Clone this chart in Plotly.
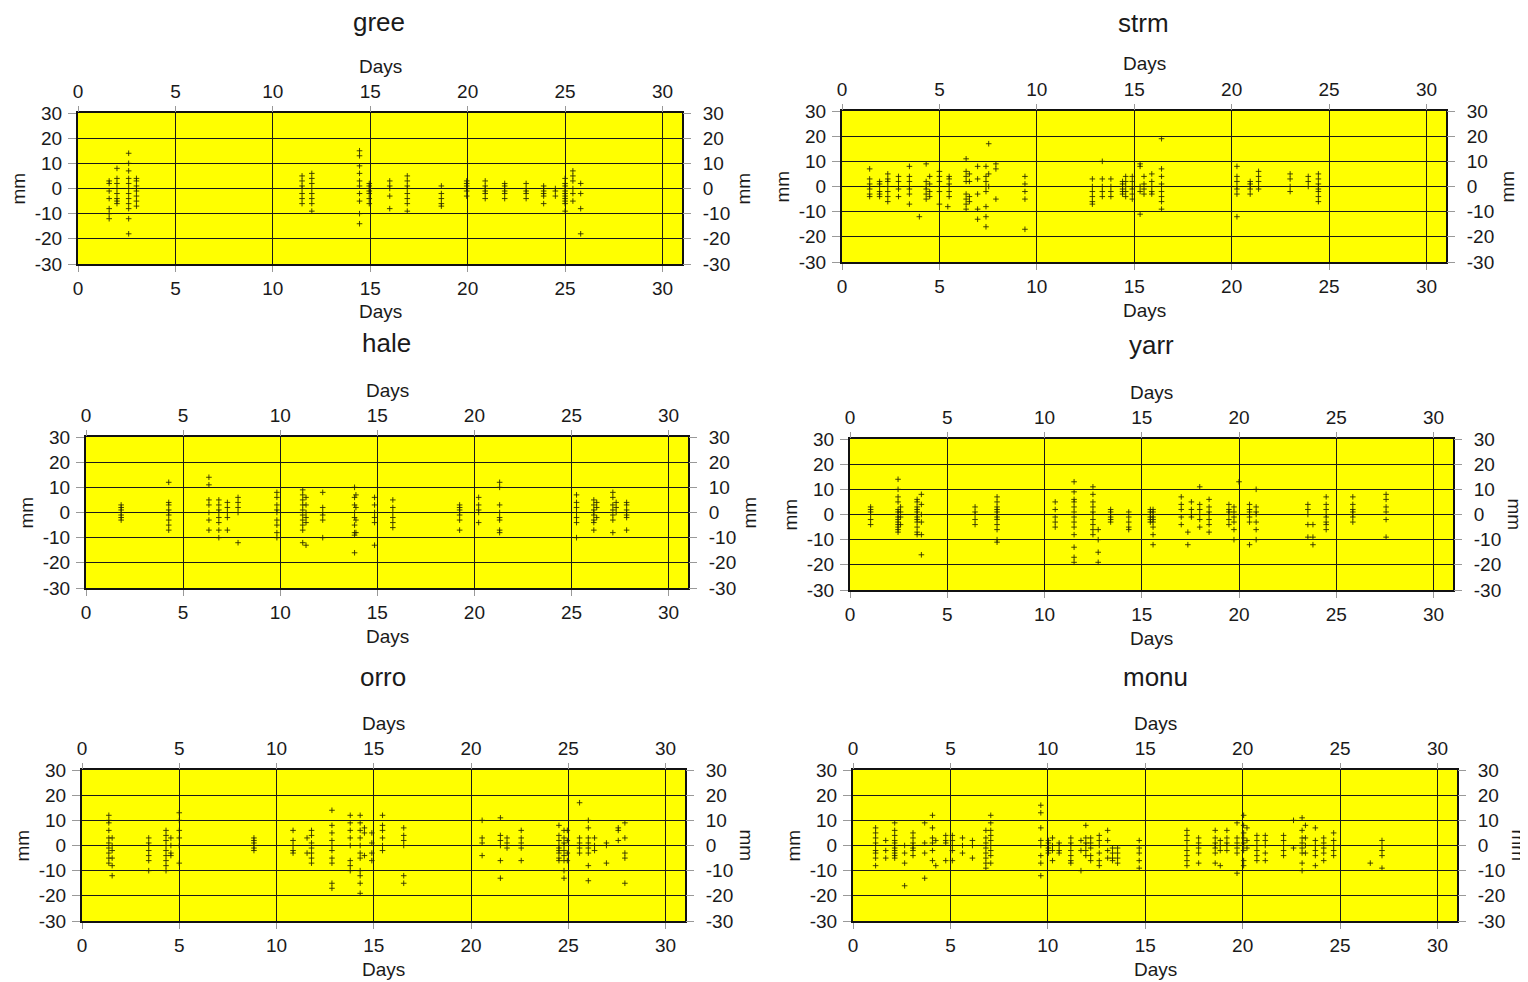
import plotly.graph_objects as go

# ---------------- data (days, and mm values observed on each day) ----------------
stations = ["gree", "strm", "hale", "yarr", "orro", "monu"]

gree_days = [1.6, 2.0, 2.6, 3.0, 11.5, 12.0, 14.45, 14.95, 16.0, 16.9, 18.65, 19.95, 20.9,
             21.9, 23.0, 23.9, 24.5, 25.0, 25.4, 25.8]
gree_mm = [[3, 2, -1, -4, -8, -10, -12], [8, 4, 2, 0, -2, -4, -5, -6],
           [14, 10, 7, 4, 2, 0, -2, -4, -6, -8, -12, -18], [4, 3, 1, 0, -1, -3, -5, -7],
           [5, 3, 1, 0, -2, -4, -6], [6, 4, 2, 0, -2, -4, -6, -9],
           [15, 13, 9, 6, 3, 1, -2, -5, -10, -14], [2, 1, 0, -1, -2, -4, -6],
           [3, 1, 0, -3, -8], [5, 3, 1, 0, -2, -4, -6, -9], [1, -2, -4, -6, -7],
           [3, 2, 1, 0, -1, -3], [3, 1, 0, -1, -2, -4], [2, 1, 0, -1, -2, -4],
           [2, 0, -1, -2, -4], [1, 0, -1, -2, -3, -6], [0, -1, -3],
           [4, 2, 1, 0, -1, -2, -3, -4, -5, -6, -9], [7, 5, 3, 0, -2, -5], [2, -2, -8, -18]]

strm_days = [1.42, 1.93, 2.35, 2.9, 3.46, 3.97, 4.32, 4.5, 5.0, 5.43, 5.5, 6.37, 6.54, 6.96,
             7.39, 7.53, 7.9, 9.39, 12.85, 13.36, 13.8, 14.4, 14.56, 14.9, 15.3, 15.5, 15.9,
             16.4, 20.27, 20.95, 21.38, 23.0, 23.93, 24.45]
strm_mm = [[7, 3, 1, 0, -1, -3, -4], [2, 1, 0, -2, -3, -4], [5, 3, 2, 0, -2, -4, -6],
           [4, 2, 0, -1, -4], [8, 4, 2, 0, -1, -3, -7], [-12], [9, 2, 0, -1, -3, -5],
           [4, 1, -2, -4], [6, 4, 2, 0, -2, -7], [-8], [4, 3, 1, 0, -2, -4],
           [11, 6, 4, 2, -3, -5, -7, -9], [5, 2, -4, -6], [8, 3, -3, -9, -13],
           [8, 4, 2, 0, -2, -8, -12, -16], [17, 5, 0], [9, 7, -5], [4, 1, -2, -5, -17],
           [3, 0, -2, -4, -6, -7], [10, 3, 0, -2, -4], [3, 0, -2, -4], [2, 1, 0, -1, -2, -3],
           [4, 2, 0, -2, -4], [4, 2, 0, -1, -3, -5], [9, 8, 0, -2, -11], [4, 1, -1, -3],
           [5, 2, 0, -2, -3], [19, 7, 4, 1, 0, -2, -4, -6, -9], [8, 4, 2, 0, -1, -3, -12],
           [2, 1, 0, -1, -3], [6, 4, 2, 0, -1], [5, 3, 0, -2], [4, 2, 0],
           [5, 3, 1, 0, -1, -2, -4, -6]]

hale_days = [1.81, 4.26, 6.33, 6.84, 7.28, 7.83, 9.83, 11.16, 11.33, 12.19, 13.83, 13.9,
             14.86, 15.8, 19.24, 20.22, 21.3, 25.26, 26.15, 26.3, 27.13, 27.3, 27.84]
hale_mm = [[3, 2, 1, 0, -1, -2, -3], [12, 4, 3, 1, 0, -1, -3, -5, -7],
           [14, 11, 5, 3, 0, -3, -7], [5, 3, 1, 0, -2, -4, -7, -10], [4, 2, 0, -2, -7],
           [6, 4, 2, 0, -12], [8, 6, 3, 1, 0, -3, -5, -8, -10],
           [9, 7, 5, 3, 1, -1, -3, -5, -7, -12], [6, 3, 0, -2, -4, -13], [8, 2, 0, -1, -3, -10],
           [10, 6, 3, 0, -2, -5, -8, -9, -16], [7, 2, -3, -8], [6, 3, 0, -2, -4, -13],
           [5, 2, 0, -2, -4, -6], [3, 2, 1, 0, -1, -3, -7], [6, 3, 1, 0, -4],
           [12, 10, 3, 0, -2, -3, -7, -8], [7, 4, 2, 0, -2, -4, -10],
           [5, 3, 1, 0, -1, -3, -4, -7], [4, 2, -2], [8, 6, 3, 1, -1, -3, -8], [4, 2, 0],
           [4, 3, 1, 0, -1, -2, -7]]

yarr_days = [1.06, 2.47, 2.6, 3.45, 3.67, 6.43, 7.56, 10.55, 11.52, 12.49, 12.76, 13.4,
             14.33, 15.44, 15.58, 17.03, 17.37, 17.55, 17.98, 18.46, 19.48, 19.74, 20.0,
             20.54, 20.88, 23.54, 23.8, 24.48, 25.85, 27.56]
yarr_mm = [[3, 2, 1, 0, -2, -4], [14, 10, 7, 5, 2, 1, 0, -1, -2, -3, -4, -5, -6, -7],
           [3, 1, -1, -4], [6, 5, 3, 2, 1, 0, -1, -2, -3, -5, -7, -8], [8, 4, 0, -3, -8, -16],
           [3, 1, 0, -2, -4], [7, 5, 3, 2, 1, 0, -1, -2, -4, -6, -10, -11],
           [5, 2, -1, -3, -5], [13, 9, 6, 5, 3, 1, -1, -3, -5, -8, -13, -17, -19],
           [11, 8, 5, 3, 1, 0, -2, -4, -6, -8], [-6, -10, -15, -19], [2, 1, 0, -1, -2, -3],
           [1, -1, -3, -5, -6], [2, 1, 0, -1, -2, -3], [2, 1, 0, -1, -2, -3, -5, -8, -12],
           [7, 4, 2, -1, -4], [-7, -12], [5, 2, 0, -1], [11, 4, 2, 0, -2, -5],
           [6, 3, 1, 0, -2, -4, -7], [4, 2, 1, 0, -2, -4], [3, 1, -1, -3, -6, -10], [13],
           [4, 2, 1, 0, -1, -3, -12], [10, 3, 1, 0, -3, -6, -10], [4, 2, 0, -4, -9],
           [-4, -9, -12], [7, 4, 2, 0, -1, -3, -4, -6], [7, 4, 2, 1, 0, -1, -3],
           [8, 6, 3, 1, -2, -9]]

orro_days = [1.38, 1.55, 3.43, 4.32, 4.57, 5.0, 8.84, 10.85, 11.57, 11.8, 12.85, 13.79, 14.3,
             14.52, 14.9, 15.45, 16.54, 20.57, 21.51, 21.85, 22.58, 24.52, 24.78, 24.95, 25.58,
             26.03, 26.35, 26.96, 27.57, 27.91]
orro_mm = [[12, 10, 9, 6, 3, 1, -1, -3, -5, -7], [3, 0, -2, -5, -8, -12],
           [3, 1, 0, -2, -4, -6, -10], [6, 4, 2, 0, -2, -4, -6, -8, -10], [3, 0, -3, -4],
           [13, 10, 6, 3, 0, -7], [3, 2, 1, 0, -1, -2], [6, 2, 0, -2, -3], [3, -3],
           [6, 4, 1, -1, -3, -5, -7], [14, 8, 5, 2, 0, -2, -5, -7, -15, -17],
           [12, 9, 6, 3, 0, -6, -8, -10], [12, 9, 6, 3, 0, -3, -5, -10, -12, -15, -19],
           [7, 5, -4], [5, 1, -3, -6], [12, 8, 6, 3, 0, -2], [7, 4, 2, 0, -12, -15],
           [10, 3, 1, -4], [11, 4, 2, 0, -6, -13], [3, 1, -1], [6, 3, 1, -1, -6],
           [8, 4, 2, 0, -1, -2, -3, -5, -6], [6, 3, 1, 0, -2, -4, -6, -10, -13],
           [6, 2, -3, -6], [17, 3, 1, -1, -3], [10, 7, 3, 1, -1, -3, -8, -14], [3, 0, -2],
           [1, 0, -7], [7, 6, 2], [9, 3, -3, -5, -15]]

monu_days = [1.16, 1.68, 2.14, 2.65, 3.08, 3.68, 4.08, 4.25, 4.76, 5.1, 5.62, 6.13, 6.82,
             7.07, 9.64, 10.03, 10.24, 10.58, 11.18, 11.7, 11.95, 12.2, 12.64, 13.07, 13.32,
             13.58, 14.69, 17.14, 17.74, 18.59, 18.85, 19.19, 19.71, 20.05, 20.22, 20.73,
             21.16, 22.1, 22.61, 23.05, 23.22, 23.73, 24.16, 24.67, 26.55, 27.15]
monu_mm = [[7, 5, 3, 1, 0, -2, -3, -5, -8], [2, -2, -5], [9, 6, 4, 2, 1, 0, -1, -2, -3, -4, -5],
           [0, -3, -7, -16], [5, 3, 1, 0, -1, -2, -4], [9, 1, -3, -13], [12, 7, 3, 1, -2, -6],
           [2, -8], [4, 2, 1, -6], [4, 2, 0, -2, -6], [3, 0, -3], [2, 0, -5],
           [6, 3, 1, -1, -3, -5, -7, -9], [12, 9, 6, 4, 2, 0, -2, -4, -7],
           [16, 13, 7, 2, 0, -4, -7, -12], [2, 1, 0, -1, -2, -3], [3, 0, -2, -6],
           [1, 0, -2, -3], [3, 1, 0, -2, -4, -6, -7], [2, -2, -10], [8, 3, 1, 0, -2, -4],
           [3, 1, -1, -4, -6], [4, 2, 0, -3, -6, -8], [6, 2, -2, -5], [-1, -3, -5, -6],
           [-1, -3, -5, -7], [2, -1, -3, -6, -9], [6, 4, 2, 0, -2, -4, -6, -8],
           [3, 1, -1, -3, -7], [6, 3, 1, 0, -1, -3, -7], [2, 0, -2, -8], [6, 3, 1, 0, -2],
           [9, 3, 1, -1, -3, -11], [12, 8, 5, 3, 1, 0, -2, -6, -8], [7, 2, -1],
           [4, 2, 0, -2, -4, -6], [4, 2, 0, -3, -6], [4, 2, 0, -2, -4], [10, -1],
           [11, 6, 3, 1, -1, -3, -7, -10], [8, 3, 0, -3], [7, 2, 0, -2, -4, -8],
           [3, 1, -1, -3, -6], [5, 2, 0, -2, -4], [-7], [2, 0, -2, -4, -9]]

x_ticks = [0, 5, 10, 15, 20, 25, 30]
y_ticks = [-30, -20, -10, 0, 10, 20, 30]
x_labels = [str(v) for v in x_ticks]
y_labels = [str(v) for v in y_ticks]
x_range = [0, 31]
y_range = [-30, 30]

data = {
    "gree": (gree_days, gree_mm), "strm": (strm_days, strm_mm), "hale": (hale_days, hale_mm),
    "yarr": (yarr_days, yarr_mm), "orro": (orro_days, orro_mm), "monu": (monu_days, monu_mm),
}

# ---------------- layout geometry (window pixels) ----------------
PAGE_OFF = 8                      # default body margin of the html page
W, H = 1528 - PAGE_OFF, 982 - PAGE_OFF
# (left, right, top, bottom) of each plot area, in window pixels
rects = [(78, 682, 113, 264), (842, 1446, 111, 262),
         (86, 688, 437, 588), (850, 1453, 439, 590),
         (82, 685, 770, 921), (853, 1457, 770, 921)]
title_pos = [(379, 22), (1143, 23), (386, 343), (1151, 345), (383, 677), (1155, 677)]
right_mm_angle = [-90, -90, -90, 90, 90, 90]

FONT = "Liberation Sans, Arial, Helvetica, sans-serif"
TXT = "#1a1a1a"

fig = go.Figure()
layout = dict(width=W, height=H, margin=dict(l=0, r=0, t=0, b=0, autoexpand=False),
              paper_bgcolor="white", plot_bgcolor="#FFFF00", showlegend=False,
              font=dict(family=FONT, color=TXT, size=19), annotations=[])


def px(x):
    return (x - PAGE_OFF) / W


def py(y):
    return 1 - (y - PAGE_OFF) / H


for i, name in enumerate(stations):
    a, b = 2 * i + 1, 2 * i + 2
    xa = "x" if a == 1 else f"x{a}"
    ya = "y" if a == 1 else f"y{a}"
    xb, yb = f"x{b}", f"y{b}"
    l, r, t, btm = rects[i]
    days, mms = data[name]
    xs, ys = [], []
    for d, vals in zip(days, mms):
        for v in vals:
            xs.append(d)
            ys.append(v)
    fig.add_trace(go.Scatter(x=xs, y=ys, xaxis=xa, yaxis=ya, mode="markers",
                             marker=dict(symbol="cross-thin", size=4,
                                         line=dict(width=1, color="rgba(40,40,0,0.85)")),
                             hoverinfo="x+y"))
    # invisible carrier trace so that the top / right mirror axes are drawn
    fig.add_trace(go.Scatter(x=x_range, y=y_range, xaxis=xb, yaxis=yb, mode="markers",
                             marker=dict(size=1, opacity=0), hoverinfo="skip"))
    common_x = dict(range=x_range, tickvals=x_ticks, ticktext=x_labels, ticks="outside",
                    ticklen=6, tickcolor="#999999", tickwidth=1,
                    tickfont=dict(size=19, color=TXT), zeroline=False, fixedrange=True,
                    automargin=False)
    common_y = dict(range=y_range, tickvals=y_ticks, ticktext=y_labels, ticks="outside",
                    ticklen=8, tickcolor="#999999", tickwidth=1,
                    tickfont=dict(size=19, color=TXT), zeroline=False, fixedrange=True,
                    automargin=False)
    layout[f"xaxis{a}"] = dict(domain=[px(l), px(r)], anchor=ya, side="bottom",
                               showgrid=True, gridcolor="#1a1a1a", gridwidth=1,
                               showline=True, linecolor="#111111", linewidth=2, mirror=True,
                               **common_x)
    layout[f"xaxis{b}"] = dict(domain=[px(l), px(r)], overlaying=xa, anchor=yb, side="top",
                               showgrid=False, showline=False, **common_x)
    layout[f"yaxis{a}"] = dict(domain=[py(btm), py(t)], anchor=xa, side="left",
                               showgrid=True, gridcolor="#1a1a1a", gridwidth=1,
                               showline=True, linecolor="#111111", linewidth=2, mirror=True,
                               ticklabelstandoff=2, **common_y)
    layout[f"yaxis{b}"] = dict(domain=[py(btm), py(t)], overlaying=ya, anchor=xb,
                               side="right", showgrid=False, showline=False,
                               ticklabelstandoff=8, **common_y)

    cx = (l + r) / 2
    tx, ty = title_pos[i]
    layout["annotations"] += [
        dict(text=name, x=px(tx), y=py(ty), xref="paper", yref="paper", showarrow=False,
             font=dict(size=26, color=TXT), xanchor="center", yanchor="middle", borderpad=0),
        dict(text="Days", x=px(cx), y=py(t - 47), xref="paper", yref="paper",
             showarrow=False, font=dict(size=19, color=TXT), xanchor="center", yanchor="middle"),
        dict(text="Days", x=px(cx), y=py(btm + 48), xref="paper", yref="paper",
             showarrow=False, font=dict(size=19, color=TXT), xanchor="center", yanchor="middle"),
        dict(text="mm", x=px(l - 60), y=py((t + btm) / 2), xref="paper", yref="paper",
             showarrow=False, textangle=-90, font=dict(size=19, color=TXT),
             xanchor="center", yanchor="middle"),
        dict(text="mm", x=px(r + 61), y=py((t + btm) / 2), xref="paper", yref="paper",
             showarrow=False, textangle=right_mm_angle[i], font=dict(size=19, color=TXT),
             xanchor="center", yanchor="middle"),
    ]

fig.update_layout(**layout)
fig.write_html("out.html")
